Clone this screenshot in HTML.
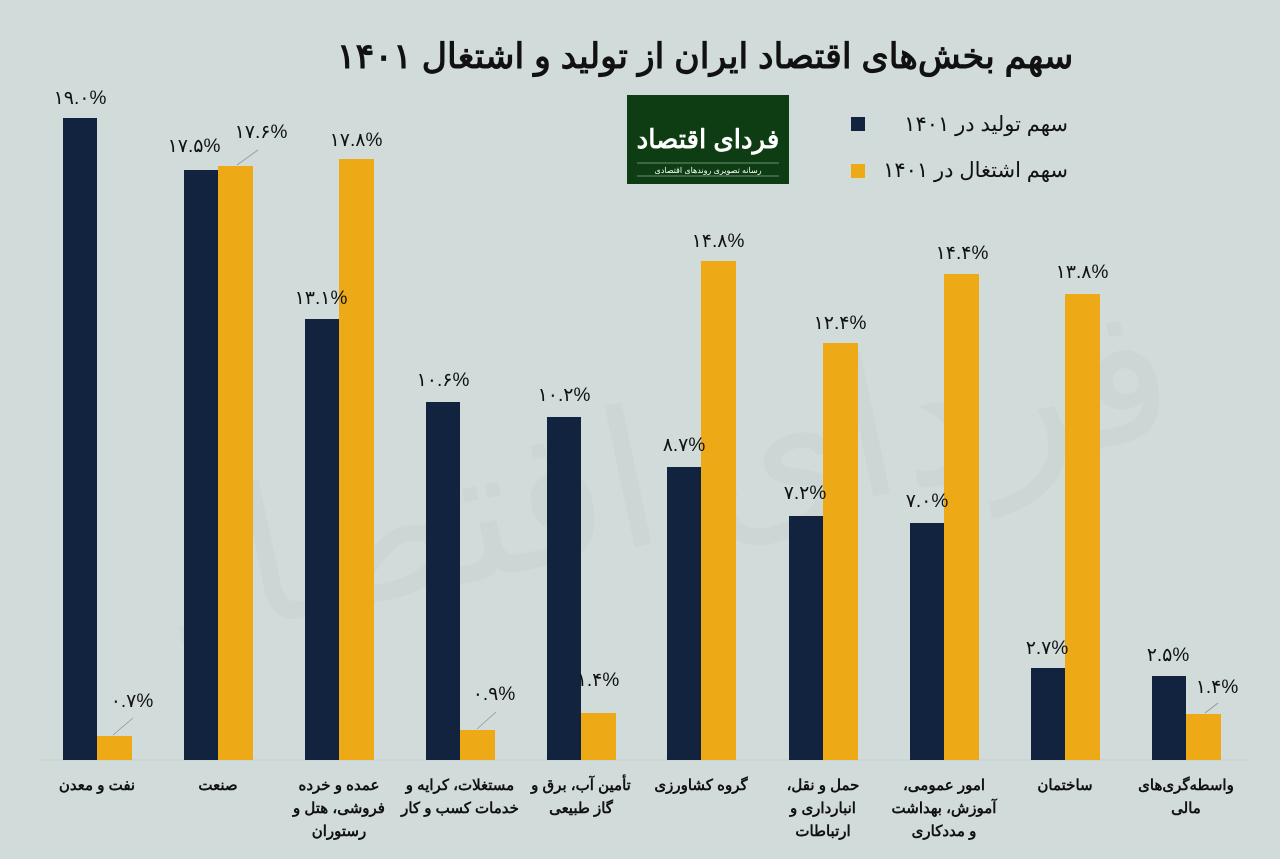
<!DOCTYPE html>
<html><head><meta charset="utf-8"><style>
body{margin:0;background:#d1dbd9;}
svg{display:block;}
text{font-family:"Liberation Sans","Noto Sans CJK SC",sans-serif;}
.v{font-size:19px;fill:#111;text-anchor:middle;}
.c{font-size:15px;font-weight:bold;fill:#111;text-anchor:middle;direction:rtl;unicode-bidi:embed;}
</style></head><body>
<svg width="1280" height="859" viewBox="0 0 1280 859">
<rect width="1280" height="859" fill="#d1dbd9"/>
<text x="660" y="540" font-size="190" fill="#ccd6d4" text-anchor="middle" transform="rotate(-12 660 460)" style="font-family:'Noto Sans CJK SC',sans-serif;direction:rtl;unicode-bidi:embed">فردای اقتصاد</text>
<text x="705" y="68" font-size="35" font-weight="bold" text-anchor="middle" fill="#111" style="direction:rtl;unicode-bidi:embed">سهم بخش‌های اقتصاد ایران از تولید و اشتغال ۱۴۰۱</text>
<rect x="627" y="95" width="162" height="89" fill="#0e3d13"/>
<text x="708" y="148" font-size="26" font-weight="bold" fill="#fff" text-anchor="middle" style="direction:rtl;unicode-bidi:embed">فردای اقتصاد</text>
<line x1="637" y1="163" x2="779" y2="163" stroke="#8a9" stroke-width="0.7"/>
<text x="708" y="173" font-size="8" fill="#fff" text-anchor="middle">رسانه تصویری روندهای اقتصادی</text>
<line x1="637" y1="176" x2="779" y2="176" stroke="#8a9" stroke-width="0.7"/>
<rect x="851" y="117" width="14" height="14" fill="#12233f"/>
<text x="1068" y="131" font-size="21" fill="#111" text-anchor="start" style="direction:rtl;unicode-bidi:embed">سهم تولید در ۱۴۰۱</text>
<rect x="851" y="164" width="14" height="14" fill="#eeaa16"/>
<text x="1068" y="177" font-size="21" fill="#111" text-anchor="start" style="direction:rtl;unicode-bidi:embed">سهم اشتغال در ۱۴۰۱</text>
<line x1="40" y1="760" x2="1250" y2="760" stroke="#c5cfcd" stroke-width="1"/>
<g fill="#12233f">
<rect x="63" y="118" width="34" height="642"/>
<rect x="184" y="170" width="34" height="590"/>
<rect x="305" y="319" width="34" height="441"/>
<rect x="426" y="402" width="34" height="358"/>
<rect x="547" y="417" width="34" height="343"/>
<rect x="667" y="467" width="34" height="293"/>
<rect x="789" y="516" width="34" height="244"/>
<rect x="910" y="523" width="34" height="237"/>
<rect x="1031" y="668" width="34" height="92"/>
<rect x="1152" y="676" width="34" height="84"/>
</g>
<g fill="#eeaa16">
<rect x="97" y="736" width="35" height="24"/>
<rect x="218" y="166" width="35" height="594"/>
<rect x="339" y="159" width="35" height="601"/>
<rect x="460" y="730" width="35" height="30"/>
<rect x="581" y="713" width="35" height="47"/>
<rect x="701" y="261" width="35" height="499"/>
<rect x="823" y="343" width="35" height="417"/>
<rect x="944" y="274" width="35" height="486"/>
<rect x="1065" y="294" width="35" height="466"/>
<rect x="1186" y="714" width="35" height="46"/>
</g>
<g stroke="#8d9896" stroke-width="0.8">
<line x1="113" y1="735" x2="133" y2="718"/>
<line x1="237" y1="165" x2="258" y2="150"/>
<line x1="477" y1="729" x2="496" y2="712"/>
<line x1="1205" y1="713" x2="1218" y2="703"/>
</g>
<g>
<text class="v" x="80" y="104">۱۹.۰%</text>
<text class="v" x="132" y="707">۰.۷%</text>
<text class="v" x="194" y="152">۱۷.۵%</text>
<text class="v" x="261" y="138">۱۷.۶%</text>
<text class="v" x="356" y="146">۱۷.۸%</text>
<text class="v" x="321" y="304">۱۳.۱%</text>
<text class="v" x="443" y="386">۱۰.۶%</text>
<text class="v" x="494" y="700">۰.۹%</text>
<text class="v" x="564" y="401">۱۰.۲%</text>
<text class="v" x="598" y="686">۱.۴%</text>
<text class="v" x="718" y="247">۱۴.۸%</text>
<text class="v" x="684" y="451">۸.۷%</text>
<text class="v" x="840" y="329">۱۲.۴%</text>
<text class="v" x="805" y="499">۷.۲%</text>
<text class="v" x="962" y="259">۱۴.۴%</text>
<text class="v" x="927" y="507">۷.۰%</text>
<text class="v" x="1082" y="278">۱۳.۸%</text>
<text class="v" x="1047" y="654">۲.۷%</text>
<text class="v" x="1168" y="661">۲.۵%</text>
<text class="v" x="1217" y="693">۱.۴%</text>
</g>
<g>
<text class="c" x="97" y="790">نفت و معدن</text>
<text class="c" x="218" y="790">صنعت</text>
<text class="c" x="339" y="790">عمده و خرده</text>
<text class="c" x="339" y="813">فروشی، هتل و</text>
<text class="c" x="339" y="836">رستوران</text>
<text class="c" x="460" y="790">مستغلات، کرایه و</text>
<text class="c" x="460" y="813">خدمات کسب و کار</text>
<text class="c" x="581" y="790">تأمین آب، برق و</text>
<text class="c" x="581" y="813">گاز طبیعی</text>
<text class="c" x="701" y="790">گروه کشاورزی</text>
<text class="c" x="823" y="790">حمل و نقل،</text>
<text class="c" x="823" y="813">انبارداری و</text>
<text class="c" x="823" y="836">ارتباطات</text>
<text class="c" x="944" y="790">امور عمومی،</text>
<text class="c" x="944" y="813">آموزش، بهداشت</text>
<text class="c" x="944" y="836">و مددکاری</text>
<text class="c" x="1065" y="790">ساختمان</text>
<text class="c" x="1186" y="790">واسطه‌گری‌های</text>
<text class="c" x="1186" y="813">مالی</text>
</g>
</svg>
</body></html>
